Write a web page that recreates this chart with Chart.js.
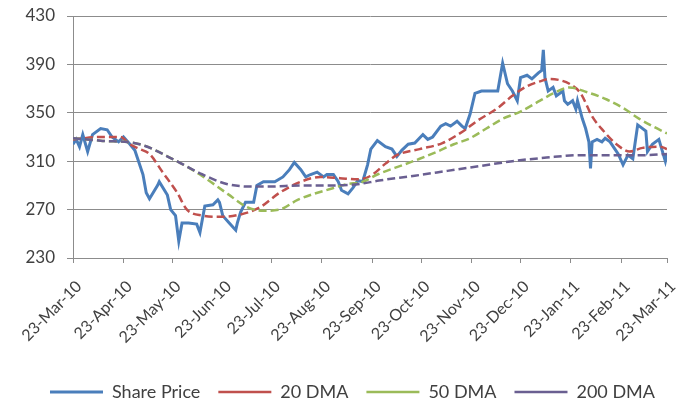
<!DOCTYPE html>
<html>
<head>
<meta charset="utf-8">
<script src="https://cdn.jsdelivr.net/npm/chart.js@4.4.1/dist/chart.umd.min.js"></script>
<style>
    html, body { margin: 0; padding: 0; background: #fff; }
    #wrap { width: 678px; height: 402px; }
</style>
</head>
<body>
<div id="wrap"><canvas id="chart" width="678" height="402"></canvas></div>
<script>
// Days counted from 23-Mar-10
const monthDays = [0, 31, 61, 92, 122, 153, 184, 214, 245, 275, 306, 337, 365];
const monthLabels = ['23-Mar-10', '23-Apr-10', '23-May-10', '23-Jun-10', '23-Jul-10', '23-Aug-10',
    '23-Sep-10', '23-Oct-10', '23-Nov-10', '23-Dec-10', '23-Jan-11', '23-Feb-11', '23-Mar-11'];
const yTicks = [230, 270, 310, 350, 390, 430];

const priceDays = [0, 2, 4, 6, 9, 12, 17, 21, 24, 28, 31, 35, 38, 43, 45, 47, 52, 53, 58, 60, 63, 65, 67, 71, 76, 78,
    81, 86, 89, 90, 92, 96, 100, 101, 103, 106, 111, 113, 117, 124, 129, 133, 136, 140, 143, 146, 150, 154, 156,
    160, 163, 165, 169, 172, 175, 178, 181, 183, 187, 192, 196, 199, 202, 206, 210, 215, 218, 221, 226, 229, 232,
    236, 239, 241, 244, 247, 251, 258, 261, 264, 267, 270, 273, 275, 279, 282, 286, 288, 289, 290, 292, 295, 297,
    301, 302, 304, 307, 309, 310, 313, 315, 317, 318, 319, 322, 325, 327, 330, 333, 335, 338, 341, 344, 347, 348,
    352, 353, 356, 360, 362, 364, 365];
const priceValues = [324, 328, 322, 332, 318, 332, 337, 336, 330, 326, 330, 324, 319, 299, 284, 279, 290, 293, 282, 270,
    265, 244, 259, 259, 258, 251, 273, 274, 278, 276, 265, 259, 253, 259, 268, 276, 276, 290, 293, 293, 297, 303,
    309, 303, 297, 299, 301, 297, 299, 299, 293, 286, 283, 288, 294, 293, 307, 320, 327, 322, 320, 314, 319, 324,
    325, 332, 328, 330, 339, 341, 339, 343, 339, 337, 349, 366, 368, 368, 368, 391, 374, 368, 360, 379, 381, 378,
    383, 385, 402, 379, 368, 371, 364, 368, 360, 357, 360, 353, 360, 345, 337, 326, 304, 326, 328, 326, 329, 326,
    320, 316, 307, 315, 312, 340, 339, 335, 318, 324, 328, 319, 310, 316];

const dma20Days = [0, 17, 29, 35, 41, 47, 55, 64, 70, 80, 90, 103, 115, 127, 140, 152, 164, 175, 183, 192, 199, 213,
    227, 240, 248, 261, 270, 279, 287, 293, 299, 305, 312, 319, 326, 334, 342, 350, 361, 365];
const dma20Values = [328, 330, 330, 324, 320, 316, 301, 284, 270, 265, 264, 266, 272, 284, 293, 297, 296, 295, 298, 308,
    315, 320, 325, 335, 343, 354, 364, 372, 376, 378, 377, 374, 366, 347, 335, 324, 318, 321, 322, 320];

const dma50Days = [0, 17, 41, 61, 78, 95, 107, 117, 127, 138, 148, 158, 168, 178, 187, 203, 213, 224, 234, 244, 254,
    264, 275, 287, 295, 305, 316, 328, 338, 348, 356, 365];
const dma50Values = [329, 327, 324, 312, 299, 283, 272, 269, 270, 278, 283, 287, 291, 293, 299, 307, 312, 318, 324, 329,
    337, 345, 351, 360, 366, 371, 367, 361, 354, 345, 339, 333];

const dma200Days = [0, 17, 41, 61, 78, 95, 111, 121, 140, 160, 175, 188, 210, 230, 250, 270, 291, 312, 332, 352, 365];
const dma200Values = [329, 327, 324, 312, 300, 291, 289, 289, 290, 290, 291, 294, 298, 302, 306, 310, 313, 315, 315,
    315, 316];

function toPoints(days, values) {
    return days.map((d, i) => ({ x: d, y: values[i] }));
}

const axisGrey = '#8c8c8c';
const textColor = '#404040';

function dmaDataset(label, days, values, color, order) {
    return {
        label: label,
        data: toPoints(days, values),
        borderColor: color,
        backgroundColor: color,
        borderWidth: 2.5,
        borderDash: [8, 4],
        pointRadius: 0,
        tension: 0.4,
        cubicInterpolationMode: 'monotone',
        order: order
    };
}

// nudge the legend a little to the right, like the original
const legendShift = {
    id: 'legendShift',
    afterLayout(chart) {
        chart.legend.left += 19;
        chart.legend.right += 19;
    }
};

new Chart(document.getElementById('chart'), {
    type: 'line',
    data: {
        datasets: [
            {
                label: 'Share Price',
                data: toPoints(priceDays, priceValues),
                borderColor: '#4a7ebb',
                backgroundColor: '#4a7ebb',
                borderWidth: 3,
                pointRadius: 0,
                tension: 0,
                order: 4
            },
            dmaDataset('20 DMA', dma20Days, dma20Values, '#c0504d', 3),
            dmaDataset('50 DMA', dma50Days, dma50Values, '#9bbb59', 2),
            dmaDataset('200 DMA', dma200Days, dma200Values, '#6a5f91', 1)
        ]
    },
    plugins: [legendShift],
    options: {
        responsive: false,
        animation: false,
        layout: { padding: { top: 16, right: 11, bottom: -9, left: 0 } },
        plugins: {
            legend: {
                position: 'bottom',
                labels: {
                    usePointStyle: true,
                    pointStyle: 'line',
                    pointStyleWidth: 53,
                    boxHeight: 10,
                    padding: 18,
                    color: textColor,
                    font: { family: 'Lato', size: 18 },
                    sort: (a, b) => a.datasetIndex - b.datasetIndex
                }
            },
            tooltip: { enabled: false }
        },
        scales: {
            x: {
                type: 'linear',
                min: 0,
                max: 365,
                afterBuildTicks: scale => { scale.ticks = monthDays.map(v => ({ value: v })); },
                afterFit: scale => {
                    scale.height = 107;
                    scale.paddingLeft = 0;
                    scale.paddingRight = 0;
                },
                ticks: {
                    autoSkip: false,
                    maxRotation: 45,
                    minRotation: 45,
                    padding: 14,
                    labelOffset: 6,
                    color: textColor,
                    font: { family: 'Lato', size: 16 },
                    callback: value => monthLabels[monthDays.indexOf(value)]
                },
                grid: { drawOnChartArea: false, color: axisGrey, tickLength: 5 },
                border: { color: axisGrey }
            },
            y: {
                min: 230,
                max: 430,
                afterBuildTicks: scale => { scale.ticks = yTicks.map(v => ({ value: v })); },
                afterFit: scale => {
                    scale.width = 73;
                    scale.paddingTop = 0;
                    scale.paddingBottom = 0;
                },
                ticks: {
                    padding: 12,
                    color: textColor,
                    font: { family: 'Lato', size: 17 }
                },
                grid: { color: axisGrey, tickLength: 6 },
                border: { color: axisGrey }
            }
        }
    }
});
</script>
</body>
</html>
